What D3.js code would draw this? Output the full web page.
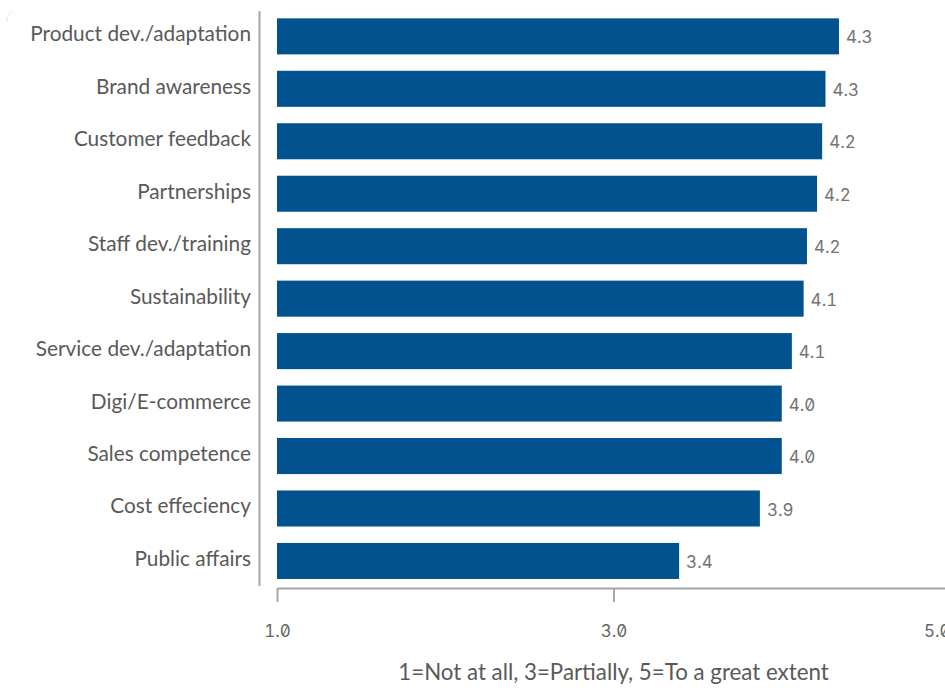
<!DOCTYPE html>
<html>
<head>
<meta charset="utf-8">
<script src="https://cdn.jsdelivr.net/npm/d3@7"></script>
<style>
  html, body { margin: 0; padding: 0; background: #fff; }
  svg { display: block; }
</style>
</head>
<body>
<svg id="chart" width="945" height="688"></svg>
<script>
const categories = [
  "Product dev./adaptation",
  "Brand awareness",
  "Customer feedback",
  "Partnerships",
  "Staff dev./training",
  "Sustainability",
  "Service dev./adaptation",
  "Digi/E-commerce",
  "Sales competence",
  "Cost effeciency",
  "Public affairs"
];
const values = [4.34, 4.26, 4.24, 4.21, 4.15, 4.13, 4.06, 4.00, 4.00, 3.87, 3.39];
const xTicks = [1, 3, 5];
const axisTitle = "1=Not at all, 3=Partially, 5=To a great extent";

const svg = d3.select("#chart");

const x = d3.scaleLinear().domain([1, 5]).range([277, 950]);
const y = d3.scaleBand().domain(categories).range([10.1, 587.2])
  .paddingInner(0.313).paddingOuter(0.157);

const barColor = "#02528f";
const axisColor = "#a6a6a6";
const labelFont = "Lato, 'Noto Sans', sans-serif";
const numFont = "Inter, 'DejaVu Sans Mono', monospace";

// faint container corner
svg.append("path")
  .attr("d", "M7,22 Q7,12 14,11")
  .attr("fill", "none").attr("stroke", "#e6e6e6").attr("stroke-width", 1);

// bars
svg.append("g").selectAll("rect").data(values).join("rect")
  .attr("x", x(1))
  .attr("y", (d, i) => y(categories[i]))
  .attr("width", d => x(d) - x(1))
  .attr("height", y.bandwidth())
  .attr("fill", barColor);

// value labels
const fmt = d3.format(".1f");
svg.append("g").selectAll("text").data(values).join("text")
  .attr("x", d => x(d) + 7)
  .attr("y", (d, i) => y(categories[i]) + y.bandwidth() / 2)
  .attr("dy", "0.42em")
  .attr("font-family", numFont)
  .style("font-feature-settings", "'zero' 1, 'tnum' 1")
  .attr("font-size", 17)
  .attr("fill", "#737373")
  .text(d => fmt(d));

// y axis (category labels + line)
const yAxis = d3.axisLeft(y).tickSize(0).tickPadding(0);
const gy = svg.append("g").attr("transform", "translate(251,0)").call(yAxis);
gy.select(".domain").remove();
gy.selectAll("text")
  .attr("font-family", labelFont)
  .attr("font-size", 20.8)
  .attr("fill", "#595959")
  .attr("dy", "0.24em");
svg.append("line")
  .attr("x1", 259.5).attr("x2", 259.5).attr("y1", 11).attr("y2", 586)
  .attr("stroke", axisColor).attr("stroke-width", 2);

// x axis
const xAxis = d3.axisBottom(x).tickValues(xTicks).tickFormat(d3.format(".1f"))
  .tickSize(14).tickPadding(23).tickSizeOuter(0);
const gx = svg.append("g").attr("transform", "translate(0,588)").call(xAxis);
gx.select(".domain").attr("stroke", axisColor).attr("stroke-width", 2);
gx.selectAll(".tick line").attr("stroke", axisColor).attr("stroke-width", 2);
gx.selectAll(".tick text")
  .attr("font-family", numFont)
  .style("font-feature-settings", "'zero' 1, 'tnum' 1")
  .attr("font-size", 17)
  .attr("fill", "#666")
  .attr("text-anchor", (d, i) => i === xTicks.length - 1 ? "end" : "middle");

// axis title
svg.append("text")
  .attr("x", (x(1) + x(5)) / 2)
  .attr("y", 680)
  .attr("text-anchor", "middle")
  .attr("font-family", labelFont)
  .attr("font-size", 22.3)
  .attr("fill", "#595959")
  .text(axisTitle);
</script>
</body>
</html>
